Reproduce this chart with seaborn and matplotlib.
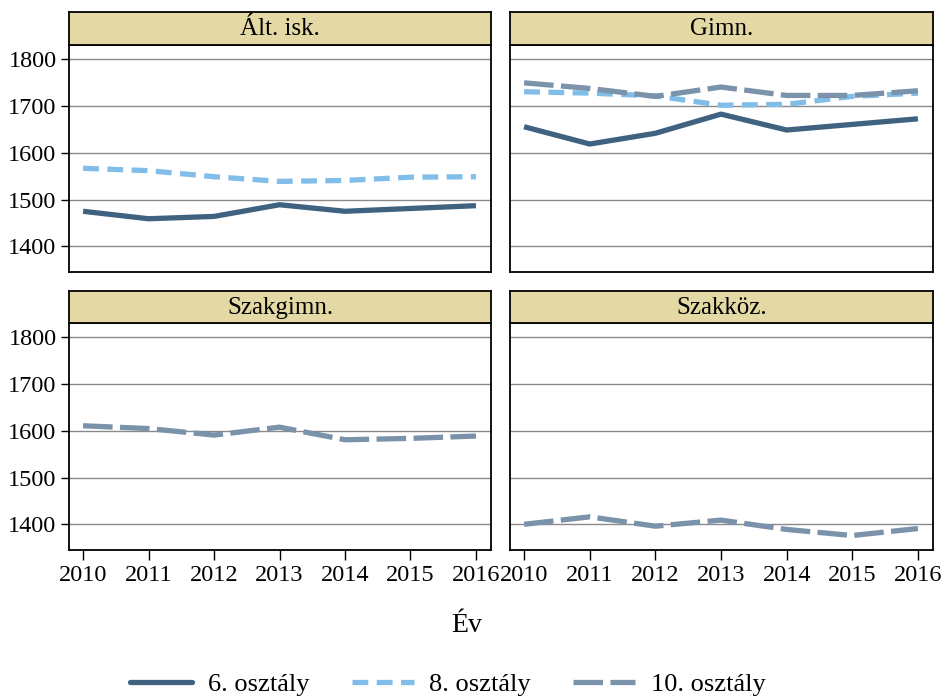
import matplotlib
matplotlib.use("Agg")
import matplotlib.pyplot as plt
from matplotlib.lines import Line2D
import numpy as np
import pandas as pd
import seaborn as sns

sns.set_style("white")
plt.rcParams["font.family"] = ["Liberation Serif", "DejaVu Serif"]
plt.rcParams["text.color"] = "black"
plt.rcParams["xtick.color"] = "black"
plt.rcParams["ytick.color"] = "black"

years = [2010, 2011, 2012, 2013, 2014, 2015, 2016]
panels = ["Ált. isk.", "Gimn.", "Szakgimn.", "Szakköz."]
grades = ["6. osztály", "8. osztály", "10. osztály"]

alt_6 = [1475, 1459, 1464, 1489, 1475, 1481, 1487]
alt_8 = [1567, 1562, 1549, 1539, 1541, 1548, 1549]
gimn_6 = [1656, 1619, 1642, 1683, 1649, 1661, 1673]
gimn_8 = [1731, 1728, 1722, 1702, 1704, 1721, 1728]
gimn_10 = [1750, 1738, 1721, 1741, 1723, 1723, 1733]
szakgimn_10 = [1611, 1605, 1591, 1608, 1581, 1584, 1589]
szakkoz_10 = [1400, 1416, 1396, 1409, 1389, 1376, 1391]

series = {
    ("Ált. isk.", "6. osztály"): alt_6,
    ("Ált. isk.", "8. osztály"): alt_8,
    ("Gimn.", "6. osztály"): gimn_6,
    ("Gimn.", "8. osztály"): gimn_8,
    ("Gimn.", "10. osztály"): gimn_10,
    ("Szakgimn.", "10. osztály"): szakgimn_10,
    ("Szakköz.", "10. osztály"): szakkoz_10,
}

rows = []
for (panel, grade), vals in series.items():
    for y, v in zip(years, vals):
        rows.append({"panel": panel, "grade": grade, "Év": y, "value": v})
df = pd.DataFrame(rows)

palette = {"6. osztály": "#3e6280", "8. osztály": "#80bde8", "10. osztály": "#7a92aa"}
dash_map = {"6. osztály": "", "8. osztály": (3.0, 1.6), "10. osztály": (5.6, 1.4)}
lw = 3.8

W, H = 943, 697
fig = plt.figure(figsize=(W / 100, H / 100), dpi=100)

def frac(x0, y0, x1, y1):
    return [x0 / W, 1 - y1 / H, (x1 - x0) / W, (y1 - y0) / H]

layout = {
    "Ált. isk.": (69, 491, 12, 45, 272),
    "Gimn.": (510, 933, 12, 45, 272),
    "Szakgimn.": (69, 491, 291, 323, 550),
    "Szakköz.": (510, 933, 291, 323, 550),
}

tick_fs = 17.5
for i, panel in enumerate(panels):
    x0, x1, s0, s1, b = layout[panel]
    ax = fig.add_axes(frac(x0, s1, x1, b))
    sub = df[df["panel"] == panel]
    sns.lineplot(data=sub, x="Év", y="value", hue="grade", style="grade",
                 palette=palette, dashes=dash_map, hue_order=grades,
                 style_order=grades, linewidth=lw, legend=False, ax=ax,
                 zorder=3)
    for ln in ax.lines:
        ln.set_dash_capstyle("butt")
        ln.set_solid_capstyle("butt")
    ax.set_xlim(2009.785, 2016.23)
    ax.set_ylim(1345, 1831)
    ax.set_yticks([1400, 1500, 1600, 1700, 1800])
    ax.set_xticks(years)
    ax.grid(axis="y", color="#8a8a8a", linewidth=1.0, zorder=0)
    ax.grid(axis="x", visible=False)
    for sp in ax.spines.values():
        sp.set_color("black")
        sp.set_linewidth(1.3)
    ax.set_xlabel("")
    ax.set_ylabel("")
    left_col = i % 2 == 0
    bottom_row = i >= 2
    ax.tick_params(axis="y", left=left_col, labelleft=left_col, length=6,
                   width=1.0, color="black", labelsize=tick_fs, pad=3)
    ax.tick_params(axis="x", bottom=bottom_row, labelbottom=bottom_row,
                   length=7, width=1.0, color="black", labelsize=tick_fs, pad=4)

    sax = fig.add_axes(frac(x0, s0, x1, s1))
    sax.set_facecolor("#e4d9a5")
    sax.set_xticks([])
    sax.set_yticks([])
    for sp in sax.spines.values():
        sp.set_color("black")
        sp.set_linewidth(1.3)
    sax.text(0.5, 0.48, panel, ha="center", va="center", fontsize=18,
             transform=sax.transAxes)

fig.text(467 / W, 1 - 625 / H, "Év", ha="center", va="center", fontsize=20)

handles = [
    Line2D([], [], color=palette[g], linewidth=lw,
           linestyle=(0, dash_map[g]) if dash_map[g] else "-",
           dash_capstyle="butt")
    for g in grades
]
fig.legend(handles, grades, loc="center", bbox_to_anchor=(448 / W, 1 - 684 / H),
           ncol=3, frameon=False, fontsize=19, handlelength=2.35,
           handletextpad=0.6, columnspacing=1.6)

fig.savefig("out.png", dpi=100)
